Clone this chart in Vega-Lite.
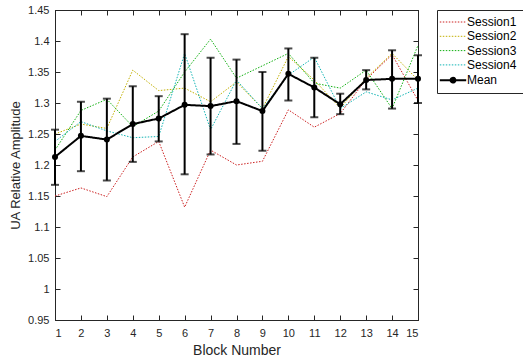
{
  "$schema": "https://vega.github.io/schema/vega-lite/v6.json",
  "width": 363,
  "height": 310,
  "autosize": "none",
  "padding": {"left": 55, "top": 10, "right": 105, "bottom": 42},
  "background": "white",
  "config": {
    "font": "Liberation Sans",
    "view": {"stroke": "#262626", "strokeWidth": 1},
    "axis": {"grid": false, "domainColor": "#262626", "tickColor": "#262626", "labelColor": "#262626", "titleColor": "#262626", "labelFontSize": 11, "titleFontSize": 13, "titleFontWeight": "normal", "tickSize": -5, "labelPadding": 11}
  },
  "datasets": {
    "sessions": [
      {"block": 1, "series": "Session1", "value": 1.15},
      {"block": 2, "series": "Session1", "value": 1.163},
      {"block": 3, "series": "Session1", "value": 1.149},
      {"block": 4, "series": "Session1", "value": 1.213},
      {"block": 5, "series": "Session1", "value": 1.238},
      {"block": 6, "series": "Session1", "value": 1.132},
      {"block": 7, "series": "Session1", "value": 1.224},
      {"block": 8, "series": "Session1", "value": 1.2},
      {"block": 9, "series": "Session1", "value": 1.206},
      {"block": 10, "series": "Session1", "value": 1.289},
      {"block": 11, "series": "Session1", "value": 1.261},
      {"block": 12, "series": "Session1", "value": 1.283},
      {"block": 13, "series": "Session1", "value": 1.338},
      {"block": 14, "series": "Session1", "value": 1.378},
      {"block": 15, "series": "Session1", "value": 1.304},
      {"block": 1, "series": "Session2", "value": 1.25},
      {"block": 2, "series": "Session2", "value": 1.266},
      {"block": 3, "series": "Session2", "value": 1.259},
      {"block": 4, "series": "Session2", "value": 1.353},
      {"block": 5, "series": "Session2", "value": 1.32},
      {"block": 6, "series": "Session2", "value": 1.324},
      {"block": 7, "series": "Session2", "value": 1.302},
      {"block": 8, "series": "Session2", "value": 1.334},
      {"block": 9, "series": "Session2", "value": 1.291},
      {"block": 10, "series": "Session2", "value": 1.375},
      {"block": 11, "series": "Session2", "value": 1.337},
      {"block": 12, "series": "Session2", "value": 1.292},
      {"block": 13, "series": "Session2", "value": 1.34},
      {"block": 14, "series": "Session2", "value": 1.38},
      {"block": 15, "series": "Session2", "value": 1.337},
      {"block": 1, "series": "Session3", "value": 1.224},
      {"block": 2, "series": "Session3", "value": 1.288},
      {"block": 3, "series": "Session3", "value": 1.306},
      {"block": 4, "series": "Session3", "value": 1.262},
      {"block": 5, "series": "Session3", "value": 1.287},
      {"block": 6, "series": "Session3", "value": 1.35},
      {"block": 7, "series": "Session3", "value": 1.403},
      {"block": 8, "series": "Session3", "value": 1.34},
      {"block": 9, "series": "Session3", "value": 1.36},
      {"block": 10, "series": "Session3", "value": 1.38},
      {"block": 11, "series": "Session3", "value": 1.332},
      {"block": 12, "series": "Session3", "value": 1.324},
      {"block": 13, "series": "Session3", "value": 1.353},
      {"block": 14, "series": "Session3", "value": 1.291},
      {"block": 15, "series": "Session3", "value": 1.393},
      {"block": 1, "series": "Session4", "value": 1.238},
      {"block": 2, "series": "Session4", "value": 1.27},
      {"block": 3, "series": "Session4", "value": 1.255},
      {"block": 4, "series": "Session4", "value": 1.244},
      {"block": 5, "series": "Session4", "value": 1.246},
      {"block": 6, "series": "Session4", "value": 1.38},
      {"block": 7, "series": "Session4", "value": 1.257},
      {"block": 8, "series": "Session4", "value": 1.337},
      {"block": 9, "series": "Session4", "value": 1.291},
      {"block": 10, "series": "Session4", "value": 1.345},
      {"block": 11, "series": "Session4", "value": 1.374},
      {"block": 12, "series": "Session4", "value": 1.291},
      {"block": 13, "series": "Session4", "value": 1.318},
      {"block": 14, "series": "Session4", "value": 1.305},
      {"block": 15, "series": "Session4", "value": 1.324}
    ],
    "mean": [
      {"block": 1, "series": "Mean", "mean": 1.213, "lo": 1.168, "hi": 1.257},
      {"block": 2, "series": "Mean", "mean": 1.247, "lo": 1.19, "hi": 1.302},
      {"block": 3, "series": "Mean", "mean": 1.241, "lo": 1.175, "hi": 1.307},
      {"block": 4, "series": "Mean", "mean": 1.266, "lo": 1.205, "hi": 1.327},
      {"block": 5, "series": "Mean", "mean": 1.275, "lo": 1.238, "hi": 1.311},
      {"block": 6, "series": "Mean", "mean": 1.297, "lo": 1.185, "hi": 1.411},
      {"block": 7, "series": "Mean", "mean": 1.295, "lo": 1.217, "hi": 1.373},
      {"block": 8, "series": "Mean", "mean": 1.303, "lo": 1.234, "hi": 1.37},
      {"block": 9, "series": "Mean", "mean": 1.287, "lo": 1.223, "hi": 1.35},
      {"block": 10, "series": "Mean", "mean": 1.347, "lo": 1.304, "hi": 1.388},
      {"block": 11, "series": "Mean", "mean": 1.325, "lo": 1.277, "hi": 1.373},
      {"block": 12, "series": "Mean", "mean": 1.298, "lo": 1.282, "hi": 1.315},
      {"block": 13, "series": "Mean", "mean": 1.337, "lo": 1.322, "hi": 1.353},
      {"block": 14, "series": "Mean", "mean": 1.339, "lo": 1.291, "hi": 1.385},
      {"block": 15, "series": "Mean", "mean": 1.339, "lo": 1.3, "hi": 1.377}
    ]
  },
  "resolve": {"axis": {"x": "independent", "y": "independent"}},
  "layer": [
    {
      "data": {"name": "sessions"},
      "mark": {"type": "line", "strokeWidth": 1},
      "encoding": {
        "x": {"field": "block", "type": "quantitative", "scale": {"domain": [1, 15], "nice": false, "zero": false},
              "axis": {"orient": "bottom", "values": [1,2,3,4,5,6,7,8,9,10,11,12,13,14,15], "title": "Block Number", "titleFontSize": 14, "titlePadding": 5, "labelPadding": 12}},
        "y": {"field": "value", "type": "quantitative", "scale": {"domain": [0.95, 1.45], "nice": false, "zero": false},
              "axis": {"orient": "left", "values": [0.95,1,1.05,1.1,1.15,1.2,1.25,1.3,1.35,1.4,1.45], "format": "~g", "title": "UA Relative Amplitude", "titlePadding": 5}},
        "color": {"field": "series", "type": "nominal",
          "scale": {"domain": ["Session1","Session2","Session3","Session4","Mean"], "range": ["#cc2020","#c2b000","#10b010","#10b4b4","#000000"]},
          "legend": {"title": null, "orient": "right", "offset": 15, "padding": 6, "strokeColor": "#262626", "fillColor": "white",
            "labelFontSize": 12, "labelColor": "#000000", "symbolSize": 144, "symbolType": "M-2.2,0H2.2", "symbolOffset": 4, "labelOffset": 8, "rowPadding": 2.3,
            "encode": {"symbols": {"update": {
              "shape": {"signal": "datum.value === 'Mean' ? 'M-2.2,0H2.2M0.4,0A0.4,0.4,0,1,1,-0.4,0A0.4,0.4,0,1,1,0.4,0Z' : 'M-2.2,0H2.2'"},
              "strokeWidth": {"signal": "datum.value === 'Mean' ? 2 : 1"},
              "fill": {"signal": "datum.value === 'Mean' ? 'black' : 'transparent'"}
            }}}}},
        "strokeDash": {"field": "series", "type": "nominal",
          "scale": {"domain": ["Session1","Session2","Session3","Session4","Mean"], "range": [[1.5,1.5],[1.5,1.5],[1.5,1.5],[1.5,1.5],[1,0]]},
          "legend": {"title": null}}
      }
    },
    {
      "data": {"name": "mean"},
      "mark": {"type": "rule", "color": "black", "strokeWidth": 2},
      "encoding": {
        "x": {"field": "block", "type": "quantitative", "axis": null},
        "y": {"field": "lo", "type": "quantitative", "axis": null},
        "y2": {"field": "hi"}
      }
    },
    {
      "data": {"name": "mean"},
      "mark": {"type": "tick", "orient": "horizontal", "color": "black", "size": 8, "thickness": 2},
      "encoding": {
        "x": {"field": "block", "type": "quantitative", "axis": null},
        "y": {"field": "lo", "type": "quantitative", "axis": null}
      }
    },
    {
      "data": {"name": "mean"},
      "mark": {"type": "tick", "orient": "horizontal", "color": "black", "size": 8, "thickness": 2},
      "encoding": {
        "x": {"field": "block", "type": "quantitative", "axis": null},
        "y": {"field": "hi", "type": "quantitative", "axis": null}
      }
    },
    {
      "data": {"name": "mean"},
      "mark": {"type": "line", "strokeWidth": 2},
      "encoding": {
        "x": {"field": "block", "type": "quantitative",
              "axis": {"orient": "top", "values": [1,2,3,4,5,6,7,8,9,10,11,12,13,14,15], "labels": false, "title": null}},
        "y": {"field": "mean", "type": "quantitative",
              "axis": {"orient": "right", "values": [0.95,1,1.05,1.1,1.15,1.2,1.25,1.3,1.35,1.4,1.45], "labels": false, "title": null}},
        "color": {"field": "series", "type": "nominal"},
        "strokeDash": {"field": "series", "type": "nominal"}
      }
    },
    {
      "data": {"name": "mean"},
      "mark": {"type": "point", "filled": true, "color": "black", "opacity": 1, "size": 36},
      "encoding": {
        "x": {"field": "block", "type": "quantitative", "axis": null},
        "y": {"field": "mean", "type": "quantitative", "axis": null}
      }
    }
  ]
}
